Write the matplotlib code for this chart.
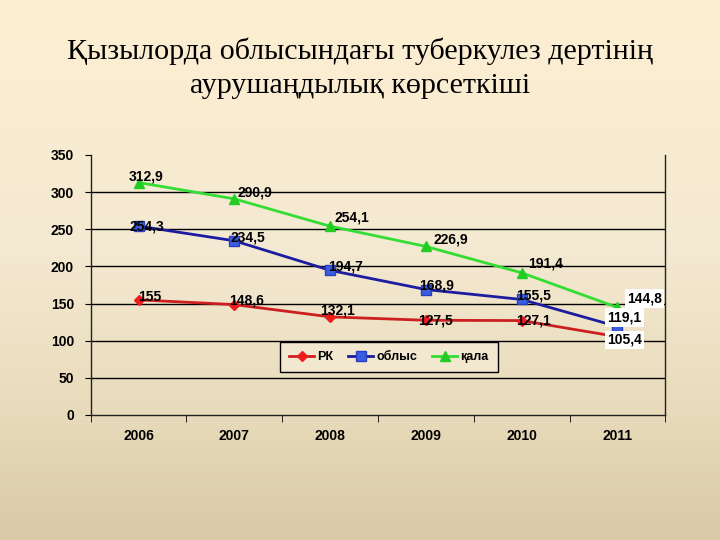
import matplotlib
matplotlib.use("Agg")
import matplotlib.pyplot as plt
import numpy as np
from matplotlib.colors import LinearSegmentedColormap

years = ["2006", "2007", "2008", "2009", "2010", "2011"]
rk = [155, 148.6, 132.1, 127.5, 127.1, 105.4]
oblys = [254.3, 234.5, 194.7, 168.9, 155.5, 119.1]
qala = [312.9, 290.9, 254.1, 226.9, 191.4, 144.8]
series_names = ["РК", "облыс", "қала"]

title_lines = ["Қызылорда облысындағы туберкулез дертінің",
               "аурушаңдылық көрсеткіші"]

fig = plt.figure(figsize=(7.2, 5.4), dpi=100)

# background gradient
bg = fig.add_axes([0, 0, 1, 1], zorder=-10)
cmap = LinearSegmentedColormap.from_list(
    "bg", [(0.0, "#d8caa6"), (0.25, "#e9dcbc"), (0.55, "#f4e9d2"), (1.0, "#fdefd1")])
grad = np.linspace(0, 1, 256).reshape(-1, 1)
bg.imshow(grad, aspect="auto", cmap=cmap, origin="lower", extent=[0, 1, 0, 1])
bg.axis("off")

fig.text(0.5, 0.905, title_lines[0],
         ha="center", va="center", fontsize=21.6, family="Liberation Serif")
fig.text(0.5, 0.840, title_lines[1],
         ha="center", va="center", fontsize=21.6, family="Liberation Serif")

ax = fig.add_axes([0.126, 0.2315, 0.798, 0.4815])
ax.patch.set_alpha(0)
x = np.arange(len(years))
ax.set_xlim(-0.5, len(years) - 0.5)
ax.set_ylim(0, 350)
ax.set_yticks(np.arange(0, 351, 50))
for yv in range(50, 301, 50):
    ax.axhline(yv, color="black", lw=1.0, zorder=1)

ax.spines["top"].set_visible(False)
for s in ["left", "right", "bottom"]:
    ax.spines[s].set_color("#222222")
    ax.spines[s].set_linewidth(1.0)

ax.set_xticks(x)
ax.set_xticklabels(years, fontsize=10, fontweight="bold", family="Liberation Sans")
ax.set_xticks(np.arange(-0.5, len(years), 1), minor=True)
ax.tick_params(axis="x", which="major", length=0, pad=10)
ax.tick_params(axis="x", which="minor", length=5, direction="out")
ax.tick_params(axis="y", length=4, direction="out", pad=8)
for lab in ax.get_yticklabels():
    lab.set_fontsize(10)
    lab.set_fontweight("bold")
    lab.set_family("Liberation Sans")

l1, = ax.plot(x, rk, color="#cc2020", lw=2, marker="D", ms=5,
              mfc="#ee1c1c", mec="#ee1c1c", zorder=3, label=series_names[0])
l2, = ax.plot(x, oblys, color="#1c1ca0", lw=2, marker="s", ms=7,
              mfc="#3a5ee0", mec="#2a3ec0", zorder=3, label=series_names[1])
l3, = ax.plot(x, qala, color="#33dd33", lw=2, marker="^", ms=7,
              mfc="#22cc22", mec="#22cc22", zorder=3, label=series_names[2])

off_rk = [(11, 3), (12, 4), (7, 6), (10, 0), (12, 0), (7, -3)]
off_ob = [(8, 0), (14, 3), (15, 4), (11, 4), (12, 4), (7, 9)]
off_qa = [(7, 6), (21, 6), (22, 9), (25, 7), (24, 9), (27, 9)]

def fmt(v):
    return ("%g" % v).replace(".", ",")

for vals, offs in [(rk, off_rk), (oblys, off_ob), (qala, off_qa)]:
    for i, (v, o) in enumerate(zip(vals, offs)):
        bbox = None
        if i == len(vals) - 1:
            bbox = dict(boxstyle="square,pad=0.15", fc="white", ec="none")
        ax.annotate(fmt(v), (x[i], v), xytext=o, textcoords="offset pixels",
                    ha="center", va="center", fontsize=10, fontweight="bold",
                    family="Liberation Sans", bbox=bbox, zorder=5,
                    annotation_clip=False)

leg = ax.legend(handles=[l1, l2, l3], loc="center",
                bbox_to_anchor=(0.519, 0.223),
                ncol=3, frameon=True, fancybox=False, edgecolor="black",
                handlelength=2.0, handletextpad=0.25, columnspacing=1.2,
                borderpad=0.75,
                prop={"family": "Liberation Sans", "size": 9, "weight": "bold"})
leg.get_frame().set_facecolor("#f2e8d0")
leg.get_frame().set_alpha(1)
leg.get_frame().set_linewidth(1.0)
leg.set_zorder(4)

fig.savefig("out.png", dpi=100)
